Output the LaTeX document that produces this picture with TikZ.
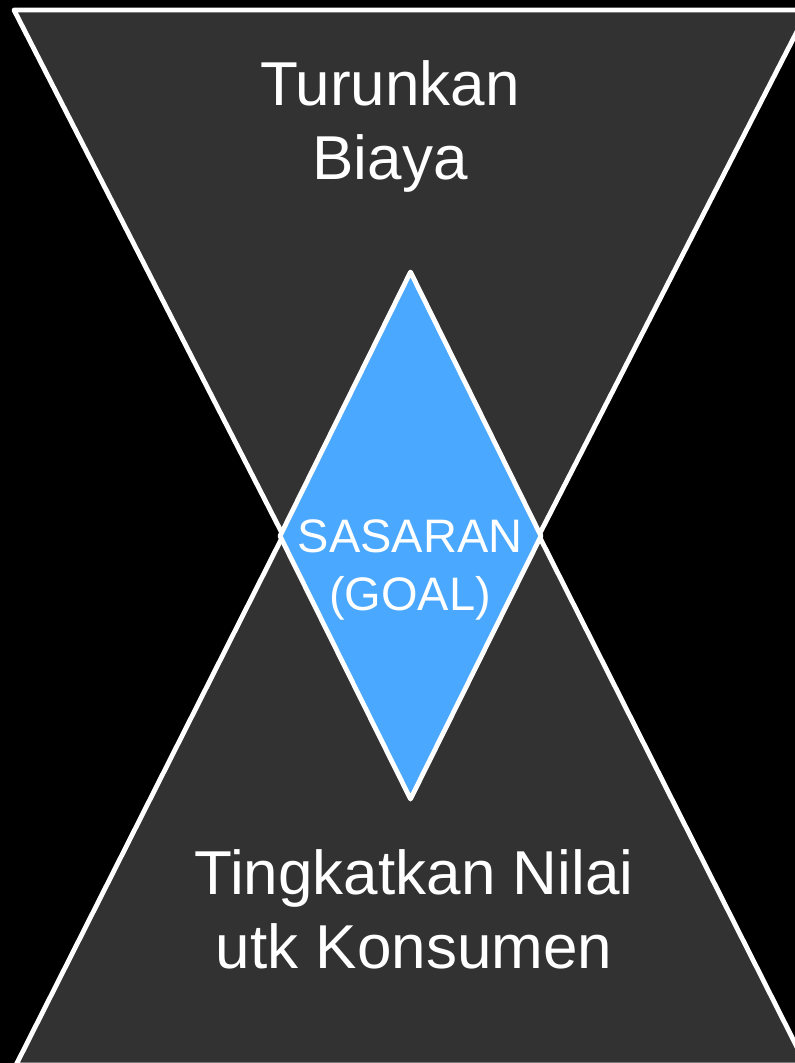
\documentclass[tikz,border=0pt]{standalone}
\usepackage{fontspec}
\setmainfont{Liberation Sans}
\usetikzlibrary{positioning}

\definecolor{panelgray}{RGB}{50,50,50}
\definecolor{goalblue}{RGB}{74,168,255}

\begin{document}
\begin{tikzpicture}[
    x=1pt, y=-1pt,
    funnel/.style={draw=white, line width=4.8pt, line join=round, fill=panelgray},
    goalshape/.style={draw=white, line width=4.8pt, line join=round, fill=goalblue},
    bigtext/.style={text=white, align=center, inner sep=0pt, font=\fontsize{62}{74}\selectfont},
    goaltext/.style={text=white, align=center, inner sep=0pt, font=\fontsize{47}{58}\selectfont}
]

% background
\fill[black] (0,0) rectangle (795,1063);
\useasboundingbox (0,0) rectangle (795,1063);

% two funnels meeting in the middle
\coordinate (topL) at (14,10);
\coordinate (topR) at (808,10);
\coordinate (topTip) at (411,785);
\coordinate (botL) at (16,1065);
\coordinate (botR) at (806,1065);
\coordinate (botTip) at (411,282);

\draw[funnel] (topL) -- (topR) -- (topTip) -- cycle;
\draw[funnel] (botL) -- (botR) -- (botTip) -- cycle;

% goal diamond
\coordinate (gN) at (410.5,272);
\coordinate (gE) at (541,536);
\coordinate (gS) at (410.5,799);
\coordinate (gW) at (280,536);
\draw[goalshape] (gN) -- (gE) -- (gS) -- (gW) -- cycle;

\node[bigtext] (cost) at (390,126) {Turunkan\\Biaya};
\node[goaltext] (goal) at (410,570) {SASARAN\\(GOAL)};
\node[bigtext] (value) at (414,909) {Tingkatkan Nilai\\utk Konsumen};

\end{tikzpicture}
\end{document}
